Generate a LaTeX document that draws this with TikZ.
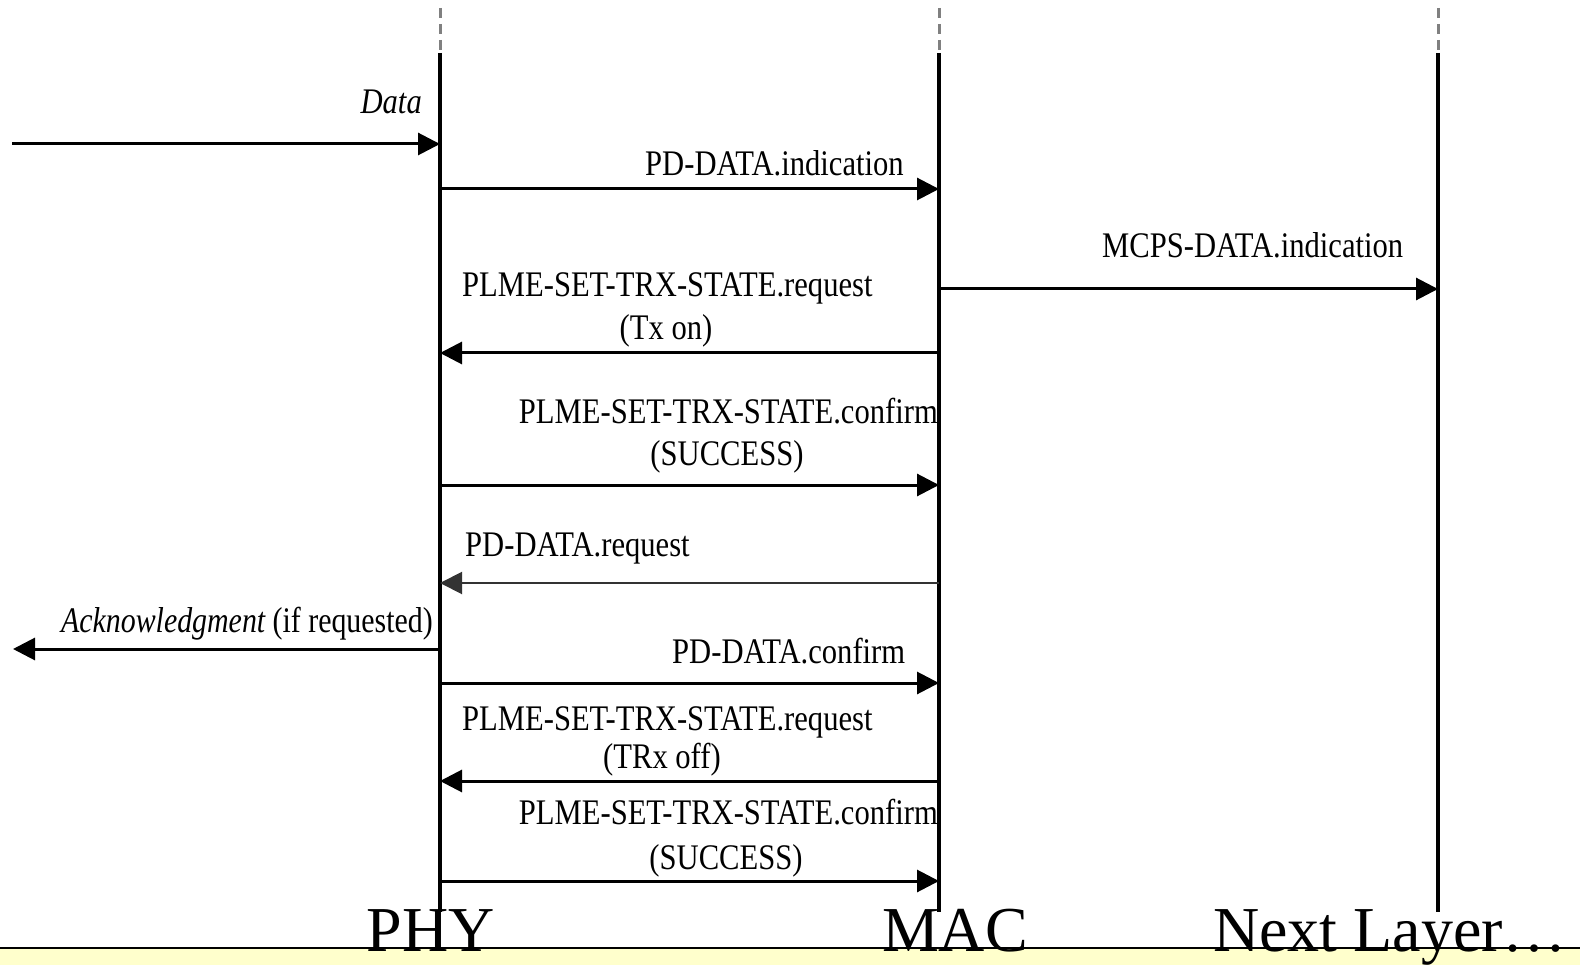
\documentclass[tikz,border=0pt]{standalone}
\usepackage{fontspec}
\setmainfont{Liberation Serif}
\newfontfamily\lbl[FakeStretch=0.85]{Liberation Serif}
\newfontfamily\lblc[FakeStretch=0.83]{Liberation Serif}
\usetikzlibrary{arrows.meta}
\definecolor{bandyellow}{HTML}{FFFFCC}
\begin{document}
\begin{tikzpicture}[x=1pt,y=-1pt,
  lifeline/.style={line width=4pt,black},
  lifetop/.style={line width=3pt,black!50,dash pattern=on 10pt off 6pt},
  msg/.style={line width=3pt,black,-{Triangle[length=22pt,width=22pt]}},
  msgthin/.style={line width=2pt,black!80,-{Triangle[length=22pt,width=22pt]}},
  lab/.style={font=\lbl\fontsize{36}{40}\selectfont,inner sep=0pt},
  labc/.style={font=\lblc\fontsize{36}{40}\selectfont,inner sep=0pt},
  layer/.style={font=\fontsize{64}{68}\selectfont,inner sep=0pt,anchor=base}]
\useasboundingbox (0,0) rectangle (1580,965);
% bottom band
\fill[bandyellow] (0,948) rectangle (1580,965);
\draw[line width=2pt] (0,948) -- (1580,948);
% lifelines
\coordinate (phyT) at (440,8);  \coordinate (phyM) at (440,53);  \coordinate (phyB) at (440,912);
\coordinate (macT) at (939,8);  \coordinate (macM) at (939,53);  \coordinate (macB) at (939,912);
\coordinate (nxtT) at (1438,8); \coordinate (nxtM) at (1438,53); \coordinate (nxtB) at (1438,912);
\draw[lifetop] (phyT) -- (phyM);
\draw[lifetop] (macT) -- (macM);
\draw[lifetop] (nxtT) -- (nxtM);
\draw[lifeline] (phyM) -- (phyB);
\draw[lifeline] (macM) -- (macB);
\draw[lifeline] (nxtM) -- (nxtB);
% layer names
\node[layer] (phy) at (431,951) {PHY};
\node[layer] (mac) at (955,951) {MAC};
\node[layer] (nxt) at (1390,951) {Next Layer…};
% message end points
\coordinate (d0) at (12,144);   \coordinate (p0) at (440,144);
\coordinate (p1) at (440,189);  \coordinate (m1) at (939,189);
\coordinate (m2) at (939,289);  \coordinate (n2) at (1438,289);
\coordinate (m3) at (939,353);  \coordinate (p3) at (440,353);
\coordinate (p4) at (440,485);  \coordinate (m4) at (939,485);
\coordinate (m5) at (939,583);  \coordinate (p5) at (440,583);
\coordinate (p6) at (440,649);  \coordinate (a6) at (13,649);
\coordinate (p7) at (440,683);  \coordinate (m7) at (939,683);
\coordinate (m8) at (939,781);  \coordinate (p8) at (440,781);
\coordinate (p9) at (440,881);  \coordinate (m9) at (939,881);
% messages
\draw[msg] (d0) -- (p0);
\draw[msg] (p1) -- (m1);
\draw[msg] (m2) -- (n2);
\draw[msg] (m3) -- (p3);
\draw[msg] (p4) -- (m4);
\draw[msgthin] (m5) -- (p5);
\draw[msg] (p6) -- (a6);
\draw[msg] (p7) -- (m7);
\draw[msg] (m8) -- (p8);
\draw[msg] (p9) -- (m9);
% labels
\node[lab,anchor=base east] (l0) at (422,114) {\itshape Data};
\node[lab,anchor=base west] (l1) at (645,176) {PD-DATA.indication};
\node[lab,anchor=base west] (l2) at (1102,258) {MCPS-DATA.indication};
\node[lab,anchor=base west] (l3a) at (462,297) {PLME-SET-TRX-STATE.request};
\node[lab,anchor=base] (l3b) at (666,340) {(Tx on)};
\node[lab,anchor=base east] (l4a) at (938,424) {PLME-SET-TRX-STATE.confirm};
\node[lab,anchor=base] (l4b) at (727,465) {(SUCCESS)};
\node[lab,anchor=base west] (l5) at (465,556) {PD-DATA.request};
\node[labc,anchor=base east] (l6) at (433,632) {{\itshape Acknowledgment} (if requested)};
\node[lab,anchor=base west] (l7) at (672,663) {PD-DATA.confirm};
\node[lab,anchor=base west] (l8a) at (462,730) {PLME-SET-TRX-STATE.request};
\node[lab,anchor=base] (l8b) at (662,768) {(TRx off)};
\node[lab,anchor=base east] (l9a) at (938,824) {PLME-SET-TRX-STATE.confirm};
\node[lab,anchor=base] (l9b) at (726,869) {(SUCCESS)};
\end{tikzpicture}
\end{document}
